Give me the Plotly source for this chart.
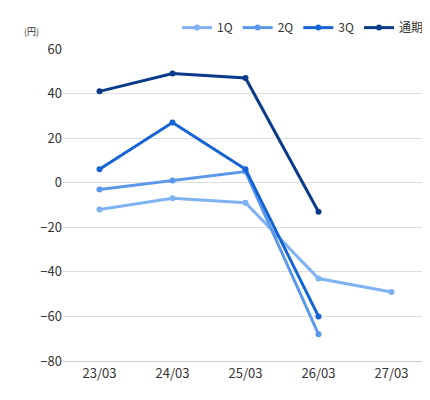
import plotly.graph_objects as go

categories = ["23/03", "24/03", "25/03", "26/03", "27/03"]
q1 = [-12, -7, -9, -43, -49]
q2 = [-3, 1, 5, -68]
q3 = [6, 27, 6, -60]
full = [41, 49, 47, -13]
names = ["1Q", "2Q", "3Q", "通期"]
colors = ["#7fb2f2", "#5b97ea", "#1663d3", "#0a3b8a"]

fig = go.Figure()
for n, v, c in zip(names, [q1, q2, q3, full], colors):
    fig.add_trace(go.Scatter(x=categories[:len(v)], y=v, name=n, mode="lines+markers",
                             line=dict(color=c, width=3), marker=dict(size=6, color=c)))

fig.update_layout(
    width=430, height=400, margin=dict(l=55, r=10, t=41, b=47, autoexpand=False),
    plot_bgcolor="white", paper_bgcolor="white",
    font=dict(family="Noto Sans CJK JP", size=13, color="#333"),
    legend=dict(orientation="h", x=1, xanchor="right", y=1.115, yanchor="top",
                font=dict(size=12), itemwidth=30),
    xaxis=dict(type="category", showline=True, linecolor="#ccc", ticks="", range=[-0.5, 4.5]),
    yaxis=dict(range=[-80, 60], dtick=20, gridcolor="#ddd", zeroline=False, ticks=""),
    annotations=[dict(text="(円)", x=0, xref="paper", xanchor="right", xshift=-22, y=1.03,
                      yref="paper", yanchor="bottom", showarrow=False, font=dict(size=9))],
)
fig.write_html("out.html")
